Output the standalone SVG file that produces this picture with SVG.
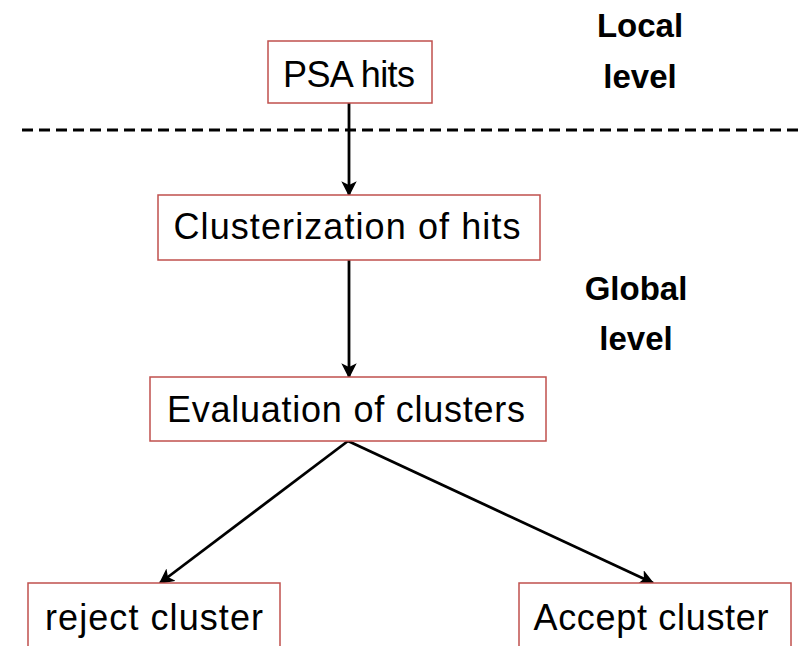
<svg xmlns="http://www.w3.org/2000/svg" width="798" height="646" viewBox="0 0 798 646">
  <style>
    .box { fill: #ffffff; stroke: #c0504d; stroke-width: 1.5; }
    .lbl { font-family: "Liberation Sans", Arial, sans-serif; font-size: 36px; fill: #000000; text-anchor: middle; }
    .lvl { font-family: "Liberation Sans", Arial, sans-serif; font-size: 33px; font-weight: bold; fill: #000000; text-anchor: middle; }
    .edge { stroke: #000000; stroke-width: 2.8; fill: none; marker-end: url(#arrow); }
  </style>
  <defs>
    <marker id="arrow" viewBox="0 0 10 10" refX="9" refY="5" markerWidth="5.5" markerHeight="5.5" markerUnits="strokeWidth" orient="auto">
      <path d="M0,0 L10,5 L0,10 L2.5,5 Z" fill="#000000"/>
    </marker>
  </defs>
  <rect width="798" height="646" fill="#ffffff"/>

  <!-- boundary between local and global levels -->
  <line x1="22" y1="130" x2="798" y2="130" stroke="#000000" stroke-width="3" stroke-dasharray="11 6"/>

  <g id="level-labels">
    <text class="lvl" x="640" y="37">Local</text>
    <text class="lvl" x="640" y="88">level</text>
    <text class="lvl" x="636" y="300">Global</text>
    <text class="lvl" x="636" y="350">level</text>
  </g>

  <g id="connectors">
    <line class="edge" x1="349" y1="103" x2="349" y2="195"/>
    <line class="edge" x1="349" y1="260" x2="349" y2="377"/>
    <line class="edge" x1="348" y1="441" x2="160" y2="583"/>
    <line class="edge" x1="348" y1="441" x2="653" y2="583"/>
  </g>

  <g id="psa-hits">
    <rect class="box" x="268" y="41" width="164" height="62"/>
    <text class="lbl" x="349" y="87" textLength="132">PSA hits</text>
  </g>

  <g id="clusterization">
    <rect class="box" x="158" y="195" width="382" height="65"/>
    <text class="lbl" x="347" y="239" textLength="347">Clusterization of hits</text>
  </g>

  <g id="evaluation">
    <rect class="box" x="150" y="377" width="396" height="64"/>
    <text class="lbl" x="346" y="422" textLength="358">Evaluation of clusters</text>
  </g>

  <g id="reject">
    <rect class="box" x="28" y="583" width="252" height="70"/>
    <text class="lbl" x="154" y="630" textLength="218">reject cluster</text>
  </g>

  <g id="accept">
    <rect class="box" x="519" y="583" width="272" height="70"/>
    <text class="lbl" x="651" y="630" textLength="235">Accept cluster</text>
  </g>
</svg>
